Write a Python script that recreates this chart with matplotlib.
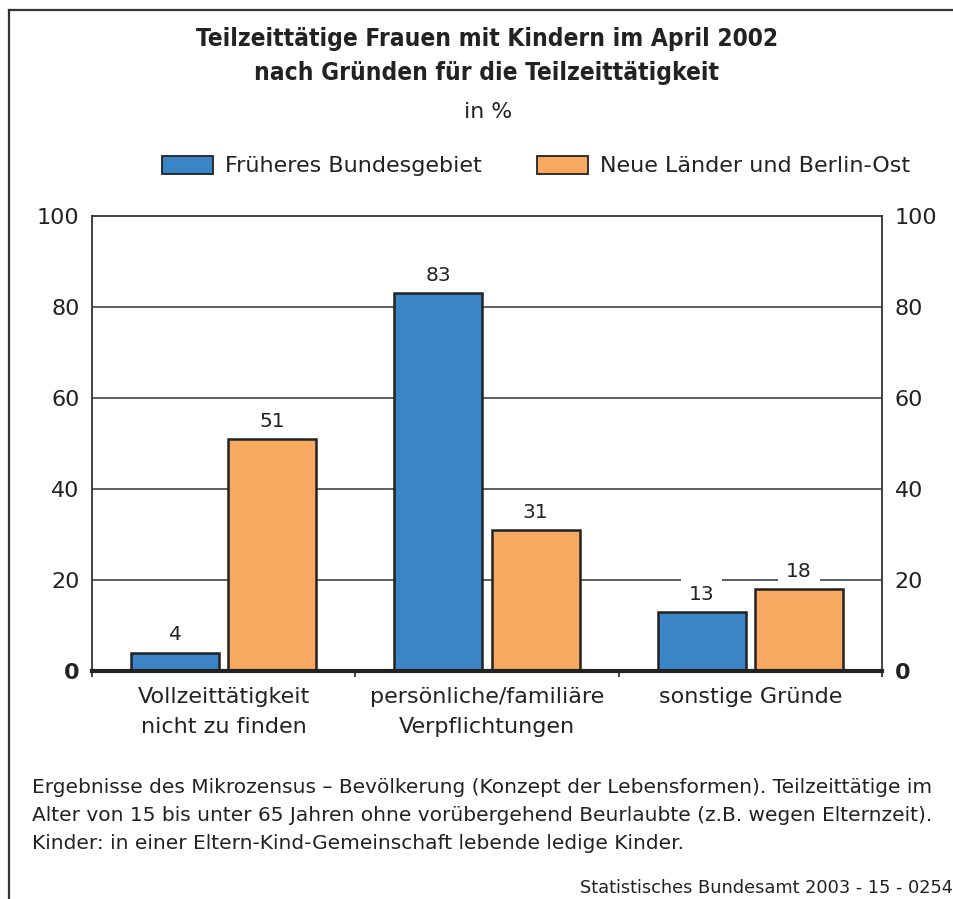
import matplotlib
matplotlib.use("Agg")
import matplotlib.pyplot as plt
from matplotlib.lines import Line2D
from matplotlib.patches import Patch
import numpy as np

# Data
categories = ["Vollzeittätigkeit\nnicht zu finden",
              "persönliche/familiäre\nVerpflichtungen",
              "sonstige Gründe"]
west = [4, 83, 13]
east = [51, 31, 18]
series_names = ["Früheres Bundesgebiet", "Neue Länder und Berlin-Ost"]
yticks = [0, 20, 40, 60, 80, 100]

blue = "#3b84c6"
orange = "#f7a962"
dark = "#222222"

plt.rcParams["font.family"] = ["DejaVu Sans"]

W, H = 954, 899
fig = plt.figure(figsize=(W / 100, H / 100), dpi=100)

# Outer frame (top and left edge visible)
fig.add_artist(Line2D([9 / W, 1.0], [1 - 10 / H, 1 - 10 / H], color="#333333", lw=1.6))
fig.add_artist(Line2D([9 / W, 9 / W], [0.0, 1 - 10 / H], color="#333333", lw=1.6))

ax = fig.add_axes([92 / W, 1 - 671 / H, (882 - 92) / W, (671 - 216) / H])

x = np.arange(len(categories))
width = 0.334
off = 0.185
b1 = ax.bar(x - off, west, width, color=blue, edgecolor=dark, linewidth=1.8, zorder=3)
b2 = ax.bar(x + off, east, width, color=orange, edgecolor=dark, linewidth=1.8, zorder=3)

# value labels: white box hides grid lines but sits under the bars
for bars, vals in [(b1, west), (b2, east)]:
    for rect, v in zip(bars, vals):
        ax.annotate(str(v), (rect.get_x() + rect.get_width() / 2, v),
                    xytext=(0, 6), textcoords="offset points",
                    ha="center", va="bottom", fontsize=14.5, color=dark,
                    bbox=dict(boxstyle="square,pad=0.4", fc="white", ec="none"),
                    zorder=2)

ax.set_xlim(-0.5, len(categories) - 0.5)
ax.set_ylim(0, 100)

# Grid lines
for yv in yticks[1:-1]:
    ax.axhline(yv, color="#333333", lw=1.1, zorder=1)

for s in ["left", "right", "top"]:
    ax.spines[s].set_color("#333333")
    ax.spines[s].set_linewidth(1.3)
ax.spines["bottom"].set_color(dark)
ax.spines["bottom"].set_linewidth(3)
ax.spines["bottom"].set_zorder(5)

# Category ticks at boundaries
ax.set_xticks(np.arange(-0.5, len(categories), 1.0))
ax.set_xticklabels([])
ax.tick_params(axis="x", length=4, width=1.3, color="#333333", direction="out")
for i, c in enumerate(categories):
    ax.text(i, -3.6, c, ha="center", va="top", fontsize=16, color=dark,
            linespacing=1.6)

ax.set_yticks(yticks)
ax.set_yticklabels([str(t) for t in yticks])
ax.tick_params(axis="y", length=0, labelsize=16, labelcolor=dark, pad=9,
               left=False, right=False, labelleft=True, labelright=True)
for tk, val in zip(ax.yaxis.get_major_ticks(), yticks):
    if val == 0:
        tk.label1.set_fontweight("bold")
        tk.label2.set_fontweight("bold")

# Title
title_kw = dict(ha="center", va="center", fontsize=17.6, fontweight="bold",
                family=["DejaVu Sans"], fontstretch="condensed", color=dark)
fig.text(487 / W, 1 - 39 / H, "Teilzeittätige Frauen mit Kindern im April 2002", **title_kw)
fig.text(487 / W, 1 - 73 / H, "nach Gründen für die Teilzeittätigkeit", **title_kw)
fig.text(488 / W, 1 - 112 / H, "in %", ha="center", va="center",
         fontsize=15.8, color=dark)

# Legend
handles = [Patch(facecolor=blue, edgecolor=dark, linewidth=1.3),
           Patch(facecolor=orange, edgecolor=dark, linewidth=1.3)]
fig.legend(handles, series_names, loc="center", bbox_to_anchor=(536 / W, 1 - 166 / H),
           ncol=2, frameon=False, fontsize=16, handlelength=2.3, handleheight=0.9,
           handletextpad=0.54, columnspacing=2.5, labelcolor=dark)

# Footnote
note = ("Ergebnisse des Mikrozensus – Bevölkerung (Konzept der Lebensformen). Teilzeittätige im\n"
        "Alter von 15 bis unter 65 Jahren ohne vorübergehend Beurlaubte (z.B. wegen Elternzeit).\n"
        "Kinder: in einer Eltern-Kind-Gemeinschaft lebende ledige Kinder.")
fig.text(32 / W, 1 - 778 / H, note, ha="left", va="top", fontsize=14.5,
         color=dark, linespacing=1.6)
fig.text(580 / W, 1 - 888 / H, "Statistisches Bundesamt 2003 - 15 - 0254",
         ha="left", va="center", fontsize=12.8, color=dark)

fig.savefig("out.png", dpi=100, facecolor="white")
